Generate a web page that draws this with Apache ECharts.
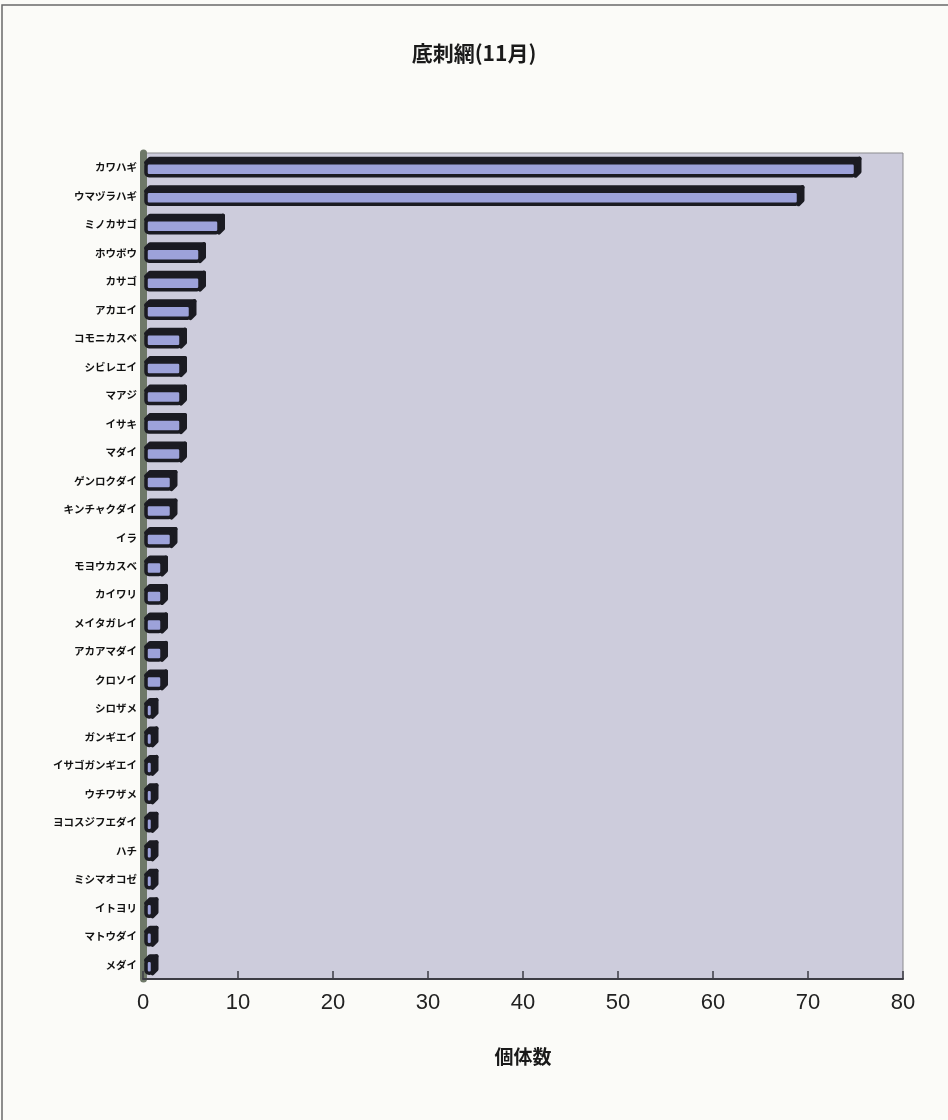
<!DOCTYPE html>
<html>
<head>
<meta charset="utf-8">
<script src="https://cdn.jsdelivr.net/npm/echarts@6/dist/echarts.min.js"></script>
<style>
  html, body { margin: 0; padding: 0; background: #fbfbf8; }
  #chart { width: 948px; height: 1120px; }
</style>
</head>
<body>
<div id="chart"></div>
<script>
// 底刺網（11月）の魚種別個体数
const titleText = '底刺網(11月)';
const axisName = '個体数';
const species = [
  'カワハギ', 'ウマヅラハギ', 'ミノカサゴ', 'ホウボウ', 'カサゴ', 'アカエイ',
  'コモニカスベ', 'シビレエイ', 'マアジ', 'イサキ', 'マダイ', 'ゲンロクダイ',
  'キンチャクダイ', 'イラ', 'モヨウカスベ', 'カイワリ', 'メイタガレイ', 'アカアマダイ',
  'クロソイ', 'シロザメ', 'ガンギエイ', 'イサゴガンギエイ', 'ウチワザメ', 'ヨコスジフエダイ',
  'ハチ', 'ミシマオコゼ', 'イトヨリ', 'マトウダイ', 'メダイ'
];
const counts = [
  75, 69, 8, 6, 6, 5,
  4, 4, 4, 4, 4, 3,
  3, 3, 2, 2, 2, 2,
  2, 1, 1, 1, 1, 1,
  1, 1, 1, 1, 1
];
const xTicks = { min: 0, max: 80, interval: 10 };

// 3D-style bar: lavender front face, dark top and side faces
const FACE_H = 13;
const DEPTH = 4;
function renderBar(params, api) {
  const idx = api.value(0);
  const val = api.value(1);
  const p0 = api.coord([0, idx]);
  const p1 = api.coord([val, idx]);
  const x0 = p0[0] + 3;
  const x1 = p1[0];
  const yTop = p0[1] - FACE_H / 2 + 2;
  const yBot = yTop + FACE_H;
  const dark = '#1b1b22';
  return {
    type: 'group',
    children: [
      {
        type: 'polygon',
        shape: { points: [[x0, yTop], [x0 + DEPTH, yTop - DEPTH], [x1 + DEPTH, yTop - DEPTH], [x1, yTop]] },
        style: { fill: dark, stroke: dark, lineWidth: 4, lineJoin: 'round' }
      },
      {
        type: 'polygon',
        shape: { points: [[x1, yTop], [x1 + DEPTH, yTop - DEPTH], [x1 + DEPTH, yBot - DEPTH], [x1, yBot]] },
        style: { fill: dark, stroke: dark, lineWidth: 4, lineJoin: 'round' }
      },
      {
        type: 'rect',
        shape: { x: x0, y: yTop, width: Math.max(x1 - x0, 1), height: FACE_H, r: 3 },
        style: { fill: '#9da2da', stroke: dark, lineWidth: 3.5, lineJoin: 'round' }
      }
    ]
  };
}

const chart = echarts.init(document.getElementById('chart'));
chart.setOption({
  backgroundColor: '#fbfbf8',
  animation: false,
  title: {
    text: titleText,
    left: 'center',
    top: 38,
    textStyle: {
      fontFamily: 'Noto Sans CJK JP',
      fontSize: 21,
      fontWeight: 'bold',
      color: '#1a1a1a'
    }
  },
  graphic: [
    {
      type: 'rect',
      shape: { x: 2, y: 5, width: 960, height: 1130 },
      style: { fill: 'none', stroke: '#6a6a6a', lineWidth: 1.5 },
      z: -1
    }
  ],
  grid: {
    left: 143,
    right: 45,
    top: 153,
    bottom: 141,
    show: true,
    backgroundColor: '#cdccdc',
    borderColor: '#8b8b8f',
    borderWidth: 1
  },
  xAxis: {
    type: 'value',
    min: xTicks.min,
    max: xTicks.max,
    interval: xTicks.interval,
    name: axisName,
    nameLocation: 'middle',
    nameGap: 68,
    nameTextStyle: {
      fontFamily: 'Noto Sans CJK JP',
      fontSize: 19,
      fontWeight: 'bold',
      color: '#1a1a1a'
    },
    axisLine: { show: true, lineStyle: { color: '#3c3c44', width: 2 } },
    axisTick: { show: true, inside: true, length: 8, lineStyle: { color: '#3c3c44', width: 1.5 } },
    splitLine: { show: false },
    axisLabel: {
      fontFamily: 'Liberation Sans Narrow, Liberation Sans, sans-serif',
      fontSize: 22,
      color: '#222',
      margin: 13
    }
  },
  yAxis: {
    type: 'category',
    data: species,
    inverse: true,
    axisLine: { show: true, lineStyle: { color: '#6e7868', width: 7 } },
    axisTick: { show: false },
    axisLabel: {
      fontFamily: 'Noto Sans CJK JP',
      fontSize: 10.5,
      fontWeight: 'bold',
      color: '#111',
      margin: 6
    }
  },
  series: [
    {
      type: 'custom',
      renderItem: renderBar,
      encode: { x: 1, y: 0 },
      data: counts.map((v, i) => [i, v]),
      z: 3
    }
  ]
});
</script>
</body>
</html>
